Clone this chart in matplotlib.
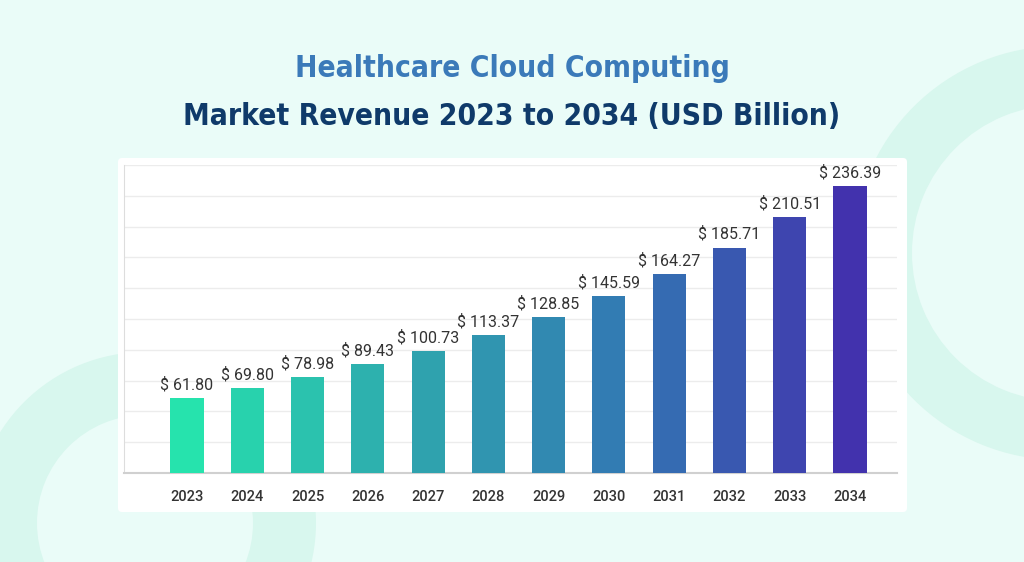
import matplotlib.pyplot as plt
import numpy as np
from matplotlib.colors import LinearSegmentedColormap
from matplotlib.patches import Wedge, FancyBboxPatch


YEARS = ["2023", "2024", "2025", "2026", "2027", "2028",
         "2029", "2030", "2031", "2032", "2033", "2034"]
REVENUE = [61.80, 69.80, 78.98, 89.43, 100.73, 113.37,
           128.85, 145.59, 164.27, 185.71, 210.51, 236.39]

TITLE_1 = "Healthcare Cloud Computing"
TITLE_2 = "Market Revenue 2023 to 2034 (USD Billion)"

BG = "#eafcf8"
RING = "#d8f7ee"
TEXT = "#333333"


def main():
    fig = plt.figure(figsize=(10.24, 5.62), dpi=100)
    fig.patch.set_facecolor(BG)

    # decorative rings in the background (pixel coords)
    W, H = 1024, 562
    back = fig.add_axes([0, 0, 1, 1], zorder=0)
    back.set_xlim(0, W)
    back.set_ylim(H, 0)
    back.set_aspect("equal")
    back.axis("off")
    back.add_patch(Wedge((145, 523), 171, 0, 360, width=63, color=RING, lw=0))
    back.add_patch(Wedge((1060, 253), 207, 0, 360, width=59, color=RING, lw=0))

    # white card
    back.add_patch(FancyBboxPatch((118, 158), 789, 354,
                                  boxstyle="round,pad=0,rounding_size=4",
                                  facecolor="white", edgecolor="none"))

    fig.text(0.5, 0.879, TITLE_1, ha="center", va="center",
             fontsize=21.5, fontweight="bold", color="#3b7ab9",
             family="DejaVu Sans", fontstretch="condensed")
    fig.text(0.5, 0.793, TITLE_2, ha="center", va="center",
             fontsize=21.5, fontweight="bold", color="#0f3a6a",
             family="DejaVu Sans", fontstretch="condensed")

    ax = fig.add_axes([124 / W, 1 - 473 / H, 773 / W, 308 / H], zorder=1)
    ax.patch.set_alpha(0)

    cmap = LinearSegmentedColormap.from_list(
        "teal_indigo", ["#26e3ad", "#2fa6ae", "#3278b3", "#4232ad"])
    x = np.arange(len(YEARS))
    colors = [cmap(i / (len(YEARS) - 1)) for i in x]
    bars = ax.bar(x, REVENUE, width=0.55, color=colors, zorder=3)

    for b, v in zip(bars, REVENUE):
        ax.annotate(f"$ {v:.2f}", (b.get_x() + b.get_width() / 2, v),
                    xytext=(0, 4), textcoords="offset points",
                    ha="center", va="bottom", fontsize=11.5, color=TEXT,
                    family=["Roboto", "DejaVu Sans"])

    ymax = 253.7
    ax.set_ylim(0, ymax)
    ax.set_xlim(-1.045, 11.78)
    ax.set_yticks(np.linspace(0, ymax, 11))
    ax.set_yticklabels([])
    ax.grid(axis="y", color="#ececec", linewidth=1, zorder=0)
    ax.set_xticks(x)
    ax.set_xticklabels(YEARS, fontsize=10.5, color=TEXT,
                       family=["Roboto", "DejaVu Sans"], fontweight="medium")
    ax.tick_params(length=0, pad=12)
    for s in ["top", "right"]:
        ax.spines[s].set_visible(False)
    ax.spines["left"].set_color("#dddddd")
    ax.spines["bottom"].set_color("#d0d0d0")
    ax.spines["bottom"].set_linewidth(1.5)

    fig.savefig("out.png", dpi=100, facecolor=BG)


if __name__ == "__main__":
    main()
